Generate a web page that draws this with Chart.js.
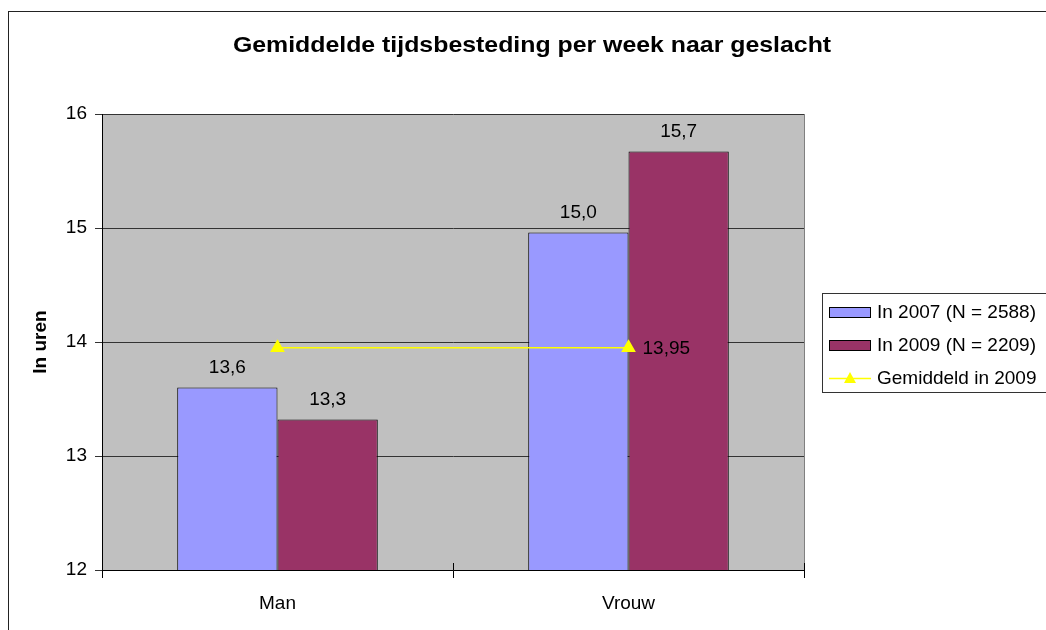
<!DOCTYPE html>
<html>
<head>
<meta charset="utf-8">
<script src="https://cdn.jsdelivr.net/npm/chart.js@4.4.1/dist/chart.umd.min.js"></script>
<style>
  html, body { margin: 0; padding: 0; background: #ffffff; }
  #wrap { width: 1046px; height: 630px; }
</style>
</head>
<body>
<div id="wrap"><canvas id="chart" width="1046" height="630"></canvas></div>
<script>
const categories = ['Man', 'Vrouw'];
const values2007 = [13.6, 14.96];
const values2009 = [13.32, 15.67];
const averageLine = [13.95, 13.95];
const seriesLabels = ['In 2007 (N = 2588)', 'In 2009 (N = 2209)', 'Gemiddeld in 2009'];
const yTicks = [12, 13, 14, 15, 16];

const chartTitle = 'Gemiddelde tijdsbesteding per week naar geslacht';
const yAxisTitle = 'In uren';
const FONT = '"Liberation Sans", Arial, sans-serif';

const fmt = v => v.toFixed(1).replace('.', ',');

// background, plot fill, outer frame, titles, labels and legend
const decorPlugin = {
    id: 'decor',
    beforeDraw(chart) {
        const { ctx, chartArea: a } = chart;
        ctx.save();
        ctx.fillStyle = '#ffffff';
        ctx.fillRect(0, 0, chart.width, chart.height);
        ctx.strokeStyle = '#222';
        ctx.lineWidth = 1;
        ctx.strokeRect(8.5, 11.5, 1200, 800);
        ctx.fillStyle = '#C0C0C0';
        ctx.fillRect(a.left, a.top, a.right - a.left, a.bottom - a.top);
        ctx.restore();
    },
    afterDraw(chart) {
        const { ctx, chartArea: a } = chart;
        ctx.save();
        // plot frame right edge
        ctx.strokeStyle = '#808080';
        ctx.beginPath();
        ctx.moveTo(a.right + 0.5, a.top);
        ctx.lineTo(a.right + 0.5, a.bottom);
        ctx.stroke();

        // x ticks crossing the axis
        const xs = chart.scales.x;
        const half = (xs.getPixelForValue(1) - xs.getPixelForValue(0)) / 2;
        ctx.strokeStyle = '#000';
        ctx.beginPath();
        [xs.getPixelForValue(0) - half, xs.getPixelForValue(0) + half, xs.getPixelForValue(1) + half].forEach(x => {
            const px = Math.round(x) + 0.5;
            ctx.moveTo(px, a.bottom - 7);
            ctx.lineTo(px, a.bottom);
        });
        ctx.stroke();

        // title (slightly wide lettering, as in the original)
        ctx.fillStyle = '#000';
        ctx.textAlign = 'center';
        ctx.textBaseline = 'middle';
        ctx.save();
        ctx.translate(532, 46);
        ctx.scale(1.13, 1);
        ctx.font = 'bold 22px ' + FONT;
        ctx.fillText(chartTitle, 0, 0);
        ctx.restore();

        // y axis title
        ctx.save();
        ctx.translate(41, (a.top + a.bottom) / 2);
        ctx.rotate(-Math.PI / 2);
        ctx.font = 'bold 19px ' + FONT;
        ctx.fillText(yAxisTitle, 0, 0);
        ctx.restore();

        // bar value labels
        ctx.font = '19px ' + FONT;
        [0, 1].forEach(di => {
            chart.getDatasetMeta(di).data.forEach((bar, i) => {
                const v = chart.data.datasets[di].data[i];
                ctx.fillText(fmt(v), bar.x, bar.y - 20);
            });
        });
        // line end label
        const pts = chart.getDatasetMeta(2).data;
        const last = pts[pts.length - 1];
        ctx.textAlign = 'left';
        ctx.fillText(averageLine[averageLine.length - 1].toFixed(2).replace('.', ','), last.x + 14, last.y + 1);

        // legend
        const lx = 822, ly = 293;
        ctx.strokeStyle = '#333';
        ctx.lineWidth = 1;
        ctx.strokeRect(lx + 0.5, ly + 0.5, 400, 99);
        const rows = [312, 345, 378];
        const ds = chart.data.datasets;
        ctx.font = '19px ' + FONT;
        ctx.textBaseline = 'middle';
        rows.forEach((y, i) => {
            if (ds[i].type === 'line') {
                ctx.strokeStyle = ds[i].borderColor;
                ctx.lineWidth = 1.5;
                ctx.beginPath();
                ctx.moveTo(829, y + 0.5);
                ctx.lineTo(871, y + 0.5);
                ctx.stroke();
                ctx.fillStyle = ds[i].pointBackgroundColor;
                ctx.beginPath();
                ctx.moveTo(850, y - 6);
                ctx.lineTo(856, y + 5);
                ctx.lineTo(844, y + 5);
                ctx.closePath();
                ctx.fill();
            } else {
                ctx.fillStyle = ds[i].backgroundColor;
                ctx.fillRect(829, y - 5, 42, 11);
                ctx.strokeStyle = '#000';
                ctx.lineWidth = 1;
                ctx.strokeRect(829.5, y - 4.5, 41, 10);
            }
            ctx.fillStyle = '#000';
            ctx.textAlign = 'left';
            ctx.fillText(ds[i].label, 877, y + 1);
        });
        ctx.restore();
    }
};

new Chart(document.getElementById('chart'), {
    type: 'bar',
    data: {
        labels: categories,
        datasets: [
            { label: seriesLabels[0], data: values2007, backgroundColor: '#9999FF', borderColor: '#000', borderWidth: 1, order: 2 },
            { label: seriesLabels[1], data: values2009, backgroundColor: '#993366', borderColor: '#000', borderWidth: 1, order: 2 },
            {
                type: 'line', label: seriesLabels[2], data: averageLine,
                borderColor: '#FFFF00', borderWidth: 1.5, pointStyle: 'triangle', pointRadius: 7,
                pointBackgroundColor: '#FFFF00', pointBorderColor: '#FFFF00', order: 1
            }
        ]
    },
    options: {
        responsive: false,
        animation: false,
        layout: { padding: { top: 114, right: 242, left: 0, bottom: 0 } },
        datasets: { bar: { categoryPercentage: 2 / 3.5, barPercentage: 1 } },
        plugins: { legend: { display: false }, tooltip: { enabled: false }, title: { display: false } },
        scales: {
            x: {
                afterFit: s => { s.height = 60; },
                grid: { drawOnChartArea: false, tickLength: 8, color: '#000', offset: true },
                border: { color: '#000', width: 1 },
                ticks: { color: '#000', font: { family: FONT, size: 19 }, padding: 14 }
            },
            y: {
                min: 12, max: 16,
                afterFit: s => { s.width = 102; },
                afterBuildTicks: s => { s.ticks = yTicks.map(v => ({ value: v })); },
                grid: { color: '#333', tickLength: 7 },
                border: { color: '#000', width: 1 },
                ticks: { color: '#000', font: { family: FONT, size: 19 }, padding: 8 }
            }
        }
    },
    plugins: [decorPlugin]
});
</script>
</body>
</html>
